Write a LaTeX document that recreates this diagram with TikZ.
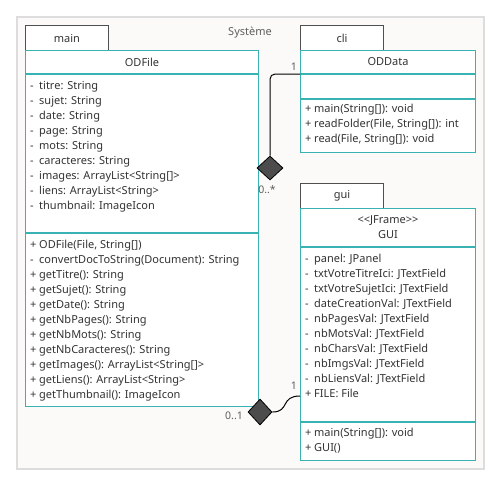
\documentclass[tikz,border=0pt]{standalone}
\usepackage{fontspec}
\setmainfont{Noto Sans}
\usetikzlibrary{positioning, shapes.geometric}
\definecolor{umlteal}{RGB}{56,178,178}
\definecolor{tabgray}{RGB}{80,80,80}
\definecolor{framegray}{RGB}{221,221,221}
\definecolor{framefill}{RGB}{251,250,248}
\definecolor{txtgray}{RGB}{51,51,51}
\definecolor{lblgray}{RGB}{95,95,95}
\newcommand{\pv}{\makebox[9pt][l]{-}}
\newcommand{\pb}{\makebox[9pt][l]{+}}
\tikzset{>=stealth,
  umltxt/.style={font=\fontsize{11}{15}\selectfont, text=txtgray},
  pkgtab/.style={draw=tabgray, fill=white, line width=1pt, anchor=north west, inner sep=0pt,
    minimum width=83pt, minimum height=25pt, umltxt},
  section/.style={draw=umlteal, fill=white, line width=1pt, anchor=north west, inner sep=0pt},
  member/.style={anchor=base west, inner sep=0pt, umltxt},
  aggdiamond/.style={diamond, draw=black, fill=black!70, line width=0.8pt, inner sep=0pt},
  mult/.style={font=\fontsize{10.5}{12}\selectfont, text=lblgray, inner sep=0pt}
}

\begin{document}
\begin{tikzpicture}[x=1pt, y=-1pt]
\useasboundingbox (0,0) rectangle (500,483);
\node[draw=framegray, fill=framefill, line width=1.5pt, anchor=north west, inner sep=0pt,
  minimum width=467pt, minimum height=452pt] (sys) at (16,16) {};
\node[font=\fontsize{11}{12}\selectfont, text=lblgray] (systitle) at (250,33) {Système};

% main
\node[pkgtab] (maintab) at (25,25) {main};
\node[section, minimum width=233pt, minimum height=23pt] (odfile-h) at (25,50) {};
\node[section, minimum width=233pt, minimum height=158pt] (odfile-a) at (odfile-h.south west) {};
\node[section, minimum width=233pt, minimum height=173pt] (odfile-m) at (odfile-a.south west) {};
\node[umltxt] (odfile-n) at (odfile-h) {ODFile};
\foreach \m [count=\i from 0] in {{\pv titre: String}, {\pv sujet: String}, {\pv date: String},
  {\pv page: String}, {\pv mots: String}, {\pv caracteres: String},
  {\pv images: ArrayList<String[]>}, {\pv liens: ArrayList<String>}, {\pv thumbnail: ImageIcon}}
  \node[member] (odfile-a\i) at (30,{89+15*\i}) {\m};
\foreach \m [count=\i from 0] in {{\pb ODFile(File, String[])}, {\pv convertDocToString(Document): String},
  {\pb getTitre(): String}, {\pb getSujet(): String}, {\pb getDate(): String},
  {\pb getNbPages(): String}, {\pb getNbMots(): String}, {\pb getNbCaracteres(): String},
  {\pb getImages(): ArrayList<String[]>}, {\pb getLiens(): ArrayList<String>},
  {\pb getThumbnail(): ImageIcon}}
  \node[member] (odfile-m\i) at (30,{248+15*\i}) {\m};

% cli
\node[pkgtab] (clitab) at (300,25) {cli};
\node[section, minimum width=175pt, minimum height=23pt] (oddata-h) at (300,50) {};
\node[section, minimum width=175pt, minimum height=24pt] (oddata-a) at (oddata-h.south west) {};
\node[section, minimum width=175pt, minimum height=53pt] (oddata-m) at (oddata-a.south west) {};
\node[umltxt] (oddata-n) at (oddata-h) {ODData};
\foreach \m [count=\i from 0] in {{\pb main(String[]): void}, {\pb readFolder(File, String[]): int},
  {\pb read(File, String[]): void}}
  \node[member] (oddata-m\i) at (305,{112+15*\i}) {\m};

% gui
\node[pkgtab] (guitab) at (300,183) {gui};
\node[section, minimum width=175pt, minimum height=38pt] (gui-h) at (300,208) {};
\node[section, minimum width=175pt, minimum height=174pt] (gui-a) at (gui-h.south west) {};
\node[section, minimum width=175pt, minimum height=38pt] (gui-m) at (gui-a.south west) {};
\node[umltxt, align=center, inner sep=0pt] (gui-n) at (gui-h) {{<}{<}JFrame{>}{>}\\GUI};
\foreach \m [count=\i from 0] in {{\pv panel: JPanel}, {\pv txtVotreTitreIci: JTextField},
  {\pv txtVotreSujetIci: JTextField}, {\pv dateCreationVal: JTextField},
  {\pv nbPagesVal: JTextField}, {\pv nbMotsVal: JTextField}, {\pv nbCharsVal: JTextField},
  {\pv nbImgsVal: JTextField}, {\pv nbLiensVal: JTextField}, {\pb FILE: File}}
  \node[member] (gui-a\i) at (305,{262+15*\i}) {\m};
\foreach \m [count=\i from 0] in {{\pb main(String[]): void}, {\pb GUI()}}
  \node[member] (gui-m\i) at (305,{436+15*\i}) {\m};

% aggregations
\node[aggdiamond, minimum width=26pt, minimum height=24pt] (agg1) at (270,168) {};
\node[aggdiamond, minimum width=24pt, minimum height=26pt] (agg2) at (260,412) {};
\coordinate (guiin) at (300,396);
\draw[line width=1pt, rounded corners=5pt] (oddata-a.north west) -| (agg1.north);
\draw[line width=1pt] (agg2.east) .. controls (290,412) and (280,396) .. (guiin);
\node[mult, anchor=south east] (m1) at (297,71) {1};
\node[mult] (m2) at (267,190) {0..*};
\node[mult, anchor=south east] (m3) at (297,390) {1};
\node[mult] (m4) at (234,416) {0..1};
\end{tikzpicture}
\end{document}
